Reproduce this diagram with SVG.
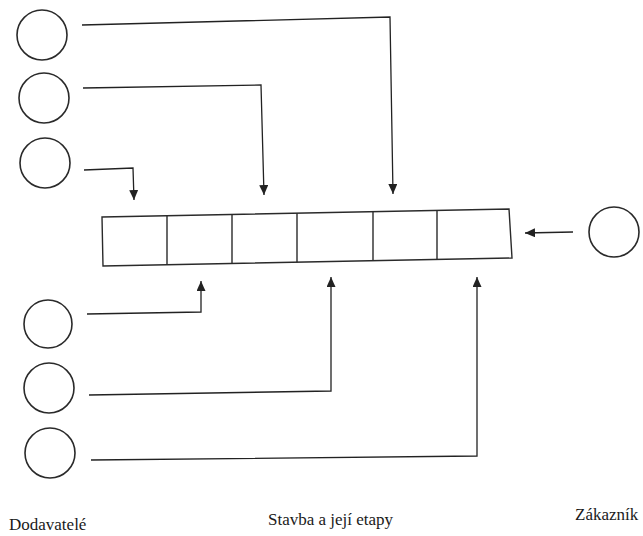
<svg xmlns="http://www.w3.org/2000/svg" width="643" height="536" viewBox="0 0 643 536">
  <style>
    .party { fill: #ffffff; stroke: #2a2a2a; stroke-width: 1.6; }
    .stage { fill: #ffffff; stroke: #2a2a2a; stroke-width: 1.4; }
    .divider { stroke: #2a2a2a; stroke-width: 1.4; }
    .flow { fill: none; stroke: #222222; stroke-width: 1.3; marker-end: url(#arrow); }
    .label { font-size: 17px; fill: #1a1a1a; }
  </style>
  <defs>
    <marker id="arrow" markerUnits="userSpaceOnUse" markerWidth="10" markerHeight="9" refX="10" refY="4.5" orient="auto">
      <path d="M0,0 L10,4.5 L0,9 z" fill="#222222"/>
    </marker>
  </defs>
  <rect width="643" height="536" fill="#ffffff"/>

  <!-- suppliers -->
  <g id="supplier-1"><circle class="party" cx="42" cy="35" r="25"/></g>
  <g id="supplier-2"><circle class="party" cx="44" cy="98" r="25"/></g>
  <g id="supplier-3"><circle class="party" cx="45" cy="163" r="25"/></g>
  <g id="supplier-4"><circle class="party" cx="48" cy="324" r="24"/></g>
  <g id="supplier-5"><circle class="party" cx="49" cy="388" r="25"/></g>
  <g id="supplier-6"><circle class="party" cx="50" cy="453" r="25"/></g>

  <!-- customer -->
  <g id="customer"><circle class="party" cx="614" cy="232" r="25"/></g>

  <!-- construction and its stages -->
  <g id="construction">
    <polygon class="stage" points="102,217 509,209 512,258 103,266"/>
    <line class="divider" x1="167" y1="215.7" x2="167" y2="264.7"/>
    <line class="divider" x1="232" y1="214.4" x2="232" y2="263.5"/>
    <line class="divider" x1="297" y1="213.2" x2="297" y2="262.2"/>
    <line class="divider" x1="373" y1="211.7" x2="373" y2="260.7"/>
    <line class="divider" x1="437" y1="210.4" x2="437" y2="259.5"/>
  </g>

  <!-- connectors -->
  <g id="connectors">
    <path class="flow" d="M82,25 L390,17 L393,194"/>
    <path class="flow" d="M83,88 L261,85 L264,195"/>
    <path class="flow" d="M84,170 L133,168 L134,200"/>
    <path class="flow" d="M87,314 L201,312 L201,281"/>
    <path class="flow" d="M89,395 L331,391 L331,277"/>
    <path class="flow" d="M91,460 L477,456 L477,277"/>
    <path class="flow" d="M573,232 L525,233"/>
  </g>

  <!-- labels -->
  <g id="labels" font-family="'Liberation Serif', 'DejaVu Serif', 'Times New Roman', serif">
    <text class="label" x="9" y="530" font-family="'Liberation Serif', 'DejaVu Serif', serif">Dodavatelé</text>
    <text class="label" x="268" y="525" font-family="'Liberation Serif', 'DejaVu Serif', serif">Stavba a její etapy</text>
    <text class="label" x="575" y="520" font-family="'Liberation Serif', 'DejaVu Serif', serif">Zákazník</text>
  </g>
</svg>
